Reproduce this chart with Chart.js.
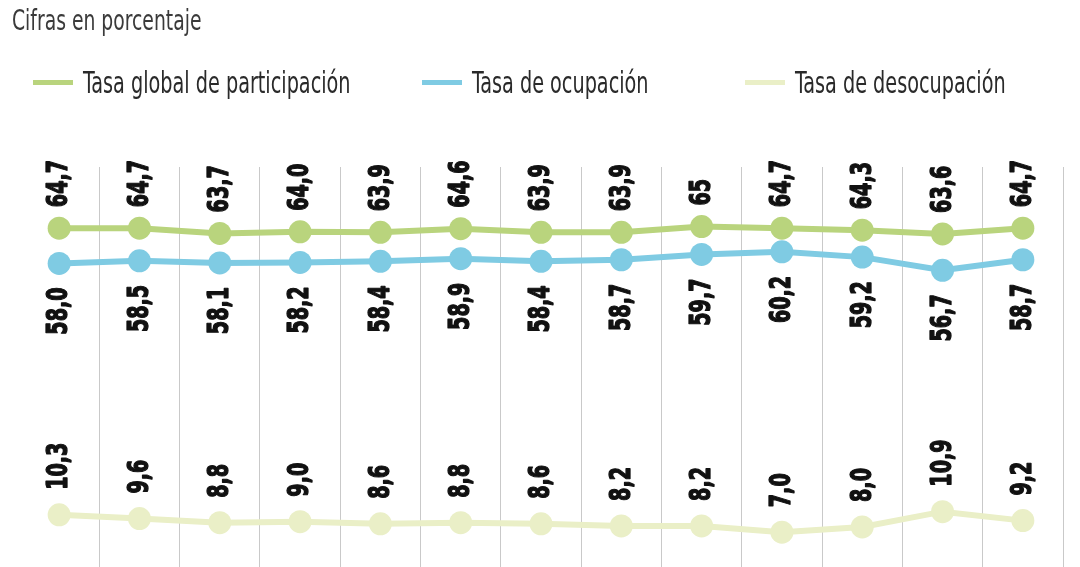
<!DOCTYPE html>
<html>
<head>
<meta charset="utf-8">
<script src="https://cdn.jsdelivr.net/npm/chart.js@4.4.1/dist/chart.umd.min.js"></script>
<style>
  html, body { margin: 0; padding: 0; background: #fff; }
  #wrap { position: relative; width: 1080px; height: 567px; overflow: hidden; }
  #title {
    position: absolute; left: 12px; top: 3px;
    font-family: 'Liberation Sans Narrow', 'DejaVu Sans Condensed', sans-serif;
    font-size: 29px; color: #3a3a3a; white-space: nowrap;
    transform: scaleX(0.72); transform-origin: left top;
  }
  #legend { position: absolute; left: 0; top: 62px; width: 1080px; height: 40px; }
  .item { position: absolute; top: 0; display: flex; align-items: center; height: 40px; }
  .item .mark { width: 40px; height: 5px; margin-right: 10px; }
  .item .txt {
    font-family: 'Liberation Sans Narrow', 'DejaVu Sans Condensed', sans-serif;
    font-size: 31px; color: #2a2a2a; white-space: nowrap;
    transform: scaleX(0.69); transform-origin: left center;
  }
  canvas { position: absolute; left: 0; top: 0; }
</style>
</head>
<body>
<div id="wrap">
  <canvas id="chart" width="1080" height="567"></canvas>
  <div id="title">Cifras en porcentaje</div>
  <div id="legend"></div>
</div>
<script>
// periods (no axis labels shown in the original)
const periods = ['1', '2', '3', '4', '5', '6', '7', '8', '9', '10', '11', '12', '13'];

const seriesNames = ['Tasa global de participación', 'Tasa de ocupación', 'Tasa de desocupación'];
const participacion = [64.7, 64.7, 63.7, 64.0, 63.9, 64.6, 63.9, 63.9, 65, 64.7, 64.3, 63.6, 64.7];
const ocupacion = [58.0, 58.5, 58.1, 58.2, 58.4, 58.9, 58.4, 58.7, 59.7, 60.2, 59.2, 56.7, 58.7];
const desocupacion = [10.3, 9.6, 8.8, 9.0, 8.6, 8.8, 8.6, 8.2, 8.2, 7.0, 8.0, 10.9, 9.2];

const colors = ['rgb(185,212,125)', 'rgb(127,203,227)', 'rgb(234,239,199)'];
// label side and gap from the point
const labelPos = [{ side: 'up', gap: 21 }, { side: 'down', gap: 24 }, { side: 'up', gap: 25 }];
const squeeze = 0.76;

function fmt(v) {
  // 65 is shown without decimals in the source
  if (v === 65) return '65';
  return v.toFixed(1).replace('.', ',');
}

const valueLabels = {
  id: 'valueLabels',
  afterDatasetsDraw(chart) {
    const ctx = chart.ctx;
    ctx.save();
    ctx.font = 'bold 28px "Liberation Sans Narrow", "DejaVu Sans Condensed", sans-serif';
    ctx.fillStyle = '#111';
    ctx.strokeStyle = '#111';
    ctx.lineWidth = 1.3;
    ctx.lineJoin = 'round';
    ctx.textBaseline = 'middle';
    chart.data.datasets.forEach((ds, di) => {
      const meta = chart.getDatasetMeta(di);
      const pos = labelPos[di];
      meta.data.forEach((pt, i) => {
        const txt = fmt(ds.data[i]);
        ctx.save();
        ctx.translate(pt.x, pt.y);
        ctx.rotate(-Math.PI / 2);
        ctx.scale(squeeze, 1);
        let x;
        if (pos.side === 'up') {
          ctx.textAlign = 'left';
          x = pos.gap / squeeze;
        } else {
          ctx.textAlign = 'right';
          x = -pos.gap / squeeze;
        }
        ctx.fillText(txt, x, 1);
        ctx.strokeText(txt, x, 1);
        ctx.restore();
      });
    });
    ctx.restore();
  }
};

const lastIdx = periods.length;

const chart = new Chart(document.getElementById('chart'), {
  type: 'line',
  data: {
    labels: periods,
    datasets: [participacion, ocupacion, desocupacion].map((d, i) => ({
      label: seriesNames[i],
      data: d,
      borderColor: colors[i],
      backgroundColor: colors[i],
      pointBackgroundColor: colors[i],
      pointBorderWidth: 0,
      pointRadius: 11.5,
      borderWidth: 6,
      tension: 0,
    })),
  },
  options: {
    responsive: false,
    animation: false,
    layout: { autoPadding: false, padding: { left: 19, right: 17, top: 167, bottom: 0 } },
    plugins: {
      legend: { display: false },
      tooltip: { enabled: false },
    },
    scales: {
      x: {
        type: 'category',
        offset: true,
        ticks: { display: false },
        border: { display: false },
        grid: {
          offset: true,
          drawTicks: false,
          lineWidth: 1,
          color: (c) => (c.index === 0 || c.index === lastIdx ? 'rgba(0,0,0,0)' : '#c9c9c9'),
        },
      },
      y: {
        display: false,
        min: 0.4,
        max: 76.3,
      },
    },
  },
  plugins: [valueLabels],
});

// legend built from the chart's datasets
const legendX = [33, 422, 745];
const legendEl = document.getElementById('legend');
chart.data.datasets.forEach((ds, i) => {
  const item = document.createElement('div');
  item.className = 'item';
  item.style.left = legendX[i] + 'px';
  const mark = document.createElement('span');
  mark.className = 'mark';
  mark.style.background = ds.borderColor;
  const txt = document.createElement('span');
  txt.className = 'txt';
  txt.textContent = ds.label;
  item.appendChild(mark);
  item.appendChild(txt);
  legendEl.appendChild(item);
});
</script>
</body>
</html>
